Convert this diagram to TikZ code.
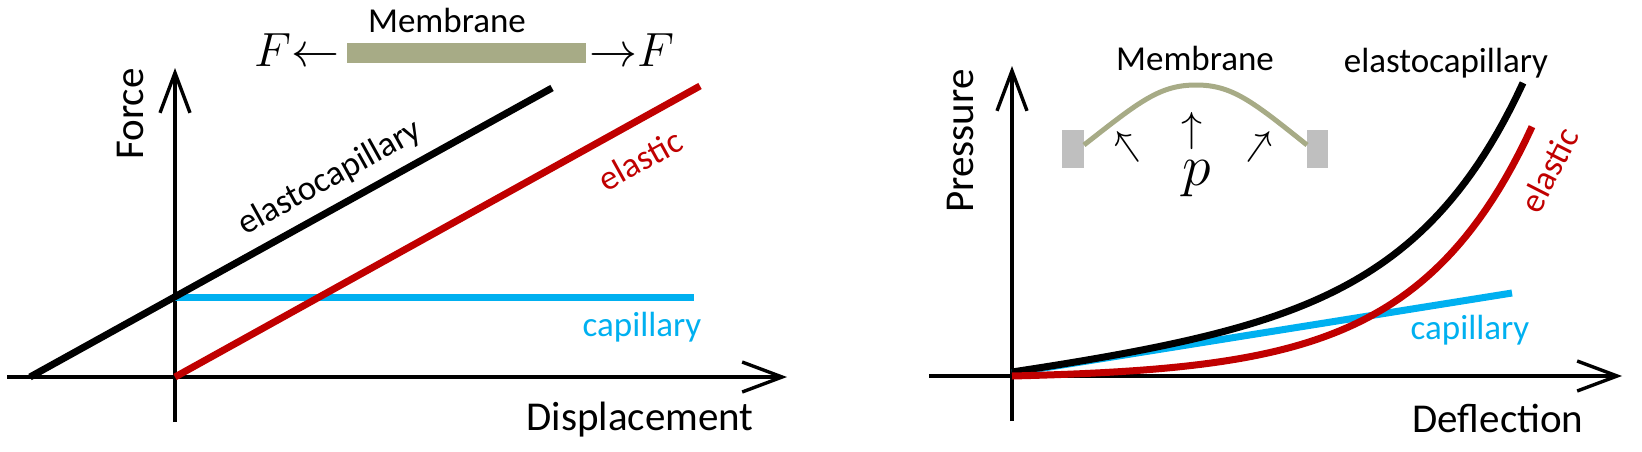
\documentclass[tikz,border=0pt]{standalone}
\usepackage{fix-cm}
\usepackage{fontspec}
\setmainfont{Carlito}
\usepackage{tikz}
\usetikzlibrary{
    arrows.meta,
    positioning,
    calc
}
\definecolor{elasred}{RGB}{192,0,0}
\definecolor{capblue}{RGB}{0,176,240}
\definecolor{membolive}{RGB}{167,171,134}
\definecolor{clampgrey}{RGB}{191,191,191}
\tikzset{
    axisline/.style={line width=1.7pt, -{Straight Barb[length=20pt,width=15pt]}},
    curve/.style={line width=3.5pt},
    axislabel/.style={font=\fontsize{20.5}{24}\selectfont, inner sep=0pt},
    curvelabel/.style={font=\fontsize{17.5}{21}\selectfont, inner sep=0pt},
    mathlabel/.style={font=\fontsize{24}{28}\selectfont, inner sep=0pt},
    pressarrow/.style={font=\fontsize{21}{25}\selectfont, inner sep=0pt},
    membar/.style={fill=membolive, minimum width=119.5pt, minimum height=10pt, inner sep=0pt}
}

\begin{document}
\begin{tikzpicture}[x=0.5pt, y=0.5pt]
\useasboundingbox (0,0) rectangle (1642,451);

% force against displacement
\coordinate (lxs) at (7,74);
\coordinate (lxe) at (787,74);
\coordinate (lys) at (175,29);
\coordinate (lye) at (175,383);
\coordinate (lo) at (175,74);
\coordinate (lcap) at (175,154);
\draw[axisline] (lxs) -- (lxe);
\draw[axisline] (lys) -- (lye);
\draw[curve, capblue] (lcap) -- (694,154);
\draw[curve] (30,74) -- (552,363);
\draw[curve, elasred] (lo) -- (700,365);
\node[curvelabel, rotate=29] (lelcap) at (330,273) {elastocapillary};
\node[curvelabel, rotate=29, text=elasred] (lel) at (640,291) {elastic};
\node[curvelabel, text=capblue] (lcapl) at (642,124) {capillary};
\node[axislabel] (lxl) at (640,31) {Displacement};
\node[axislabel, rotate=90] (lyl) at (130,337) {Force};
\node[membar] (lmem) at (466.5,398) {};
\node[curvelabel, anchor=base] (lmeml) at (447,418) {Membrane};
\node[mathlabel, anchor=base east] (lfl) at (340,385) {$F\mkern-5mu\leftarrow$};
\node[mathlabel, anchor=base west] (lfr) at (589,385) {$\rightarrow\mkern-5mu F$};

% pressure against deflection
\coordinate (rxs) at (929,75);
\coordinate (rxe) at (1622,75);
\coordinate (rys) at (1012,30);
\coordinate (rye) at (1012,385);
\draw[axisline] (rxs) -- (rxe);
\draw[axisline] (rys) -- (rye);
\draw[curve, capblue] (1012,78) -- (1512,158);
\draw[curve] plot[domain=0:511, samples=80] ({1012+\x}, {79+0.132*\x+2.15*(exp(\x/110)-1)});
\draw[curve, elasred] plot[domain=0:520, samples=80] ({1012+\x}, {75+2.85*(exp(\x/116)-1)});
\node[curvelabel] (relcap) at (1446,388) {elastocapillary};
\node[curvelabel, rotate=63, text=elasred] (rel) at (1549,281) {elastic};
\node[curvelabel, text=capblue] (rcapl) at (1470,121) {capillary};
\node[axislabel] (rxl) at (1498,33) {Deflection};
\node[axislabel, rotate=90] (ryl) at (960,310) {Pressure};
\fill[clampgrey] (1062,283) rectangle (1084,321);
\fill[clampgrey] (1307,283) rectangle (1328,321);
\draw[membolive, line width=2.5pt] (1084,306) .. controls (1140,350) and (1160,366) .. (1196,366) .. controls (1232,366) and (1252,350) .. (1307,306);
\node[curvelabel] (rmeml) at (1195,393) {Membrane};
\node[pressarrow] (rpm) at (1192,320) {$\uparrow$};
\node[pressarrow, rotate=35] (rpl) at (1128,304) {$\uparrow$};
\node[pressarrow, rotate=-35] (rpr) at (1259,304) {$\uparrow$};
\node[mathlabel, font=\fontsize{29}{33}\selectfont] (rp) at (1197,272) {$p$};
\end{tikzpicture}
\end{document}
